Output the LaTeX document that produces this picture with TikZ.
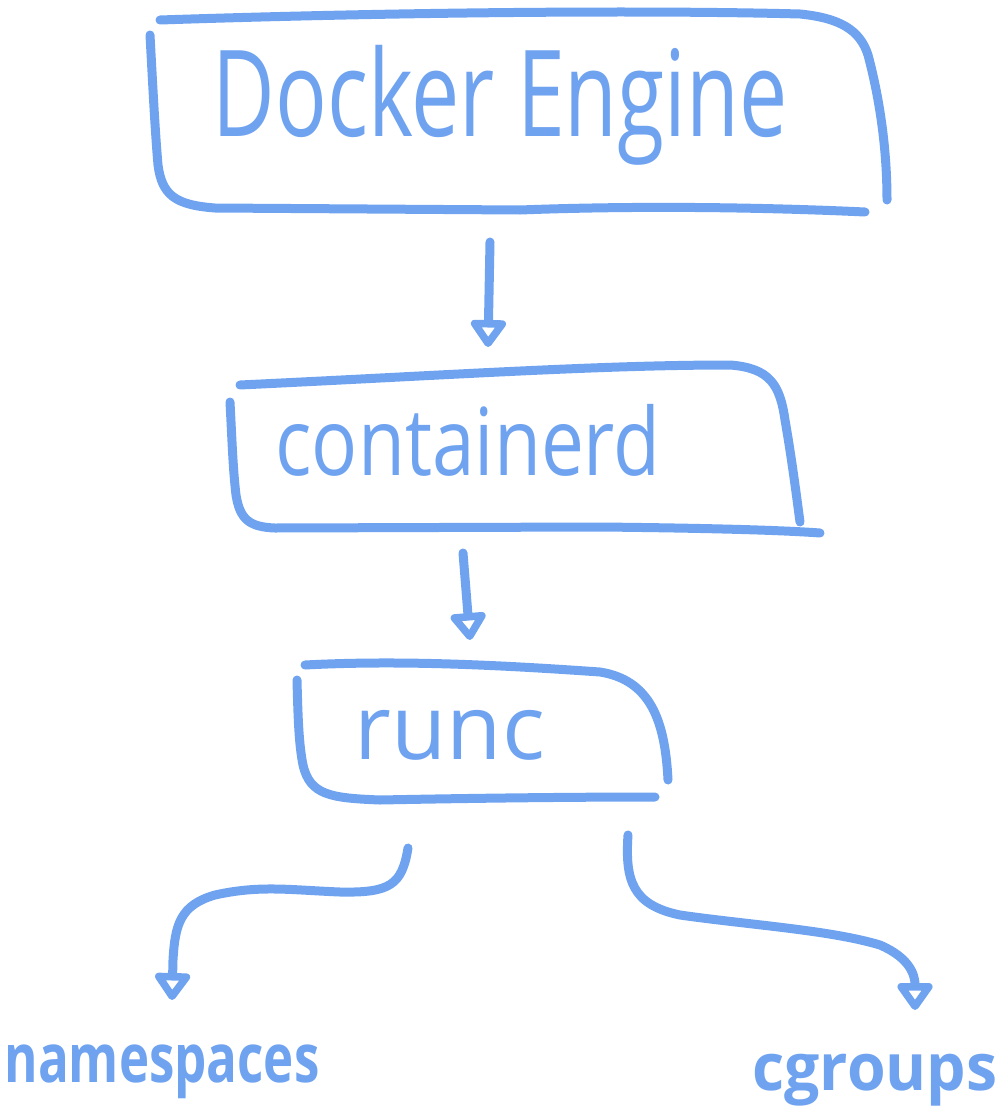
\documentclass[tikz,border=0pt]{standalone}
\usepackage{fontspec}
\setmainfont{Open Sans}
\usepackage{graphicx}
\usetikzlibrary{arrows.meta,calc}
\definecolor{sk}{HTML}{6FA3F0}
\begin{document}
\begin{tikzpicture}[x=1pt,y=-1pt,
  ink/.style={draw=sk,line width=9pt,line cap=round,line join=round},
  arr/.style={ink,-{Triangle[open,length=30pt,width=40pt,round]}},
  txt/.style={text=sk,inner sep=0pt}]
\useasboundingbox (0,0) rectangle (999,1108);
% boxes (hand-drawn outlines)
\draw[ink] (160,20) .. controls (400,12) and (650,10) .. (800,14) .. controls (840,18) and (860,30) .. (868,55) .. controls (880,100) and (887,150) .. (887,200);
\draw[ink] (150,35) .. controls (153,90) and (155,130) .. (158,165) .. controls (162,195) and (175,205) .. (215,208) -- (520,210) .. controls (650,205) and (780,208) .. (865,212);
\draw[ink] (240,385) .. controls (450,375) and (600,365) .. (730,365) .. controls (770,368) and (780,385) .. (785,420) .. controls (792,460) and (797,500) .. (800,522);
\draw[ink] (230,402) .. controls (232,440) and (233,470) .. (236,495) .. controls (240,520) and (250,527) .. (275,528) -- (600,527) .. controls (700,528) and (780,530) .. (820,533);
\draw[ink] (305,665) .. controls (400,660) and (500,665) .. (600,672) .. controls (650,680) and (665,720) .. (668,780);
\draw[ink] (297,680) .. controls (298,720) and (299,745) .. (303,765) .. controls (310,795) and (330,798) .. (380,800) .. controls (480,798) and (580,797) .. (655,797);
% labels
\node[txt] (de) at (500,105) {\resizebox*{575pt}{120pt}{Docker Engine}};
\node[txt] (cd) at (468,440) {\resizebox*{385pt}{72pt}{containerd}};
\node[txt] (rc) at (450,735) {\resizebox*{190pt}{50pt}{runc}};
\node[txt] (ns) at (162,1072) {\resizebox*{315pt}{54pt}{\bfseries namespaces}};
\node[txt] (cg) at (875,1080) {\resizebox*{245pt}{52pt}{\bfseries cgroups}};
% connectors
\draw[arr] ($(de)+(-10,137)$) -- ($(cd)+(20,-93)$);
\draw[arr] ($(cd)+(-5,113)$) -- ($(rc)+(20,-95)$);
\draw[arr] ($(rc)+(-42,113)$) .. controls (402,885) and (390,893) .. (340,892) .. controls (290,890) and (260,885) .. (215,895) .. controls (180,905) and (175,925) .. (173,960) -- ($(ns)+(10,-72)$);
\draw[arr] ($(rc)+(178,100)$) .. controls (625,880) and (632,905) .. (680,915) .. controls (750,925) and (830,930) .. (880,945) .. controls (910,958) and (915,975) .. (915,985) -- ($(cg)+(40,-70)$);
\end{tikzpicture}
\end{document}
